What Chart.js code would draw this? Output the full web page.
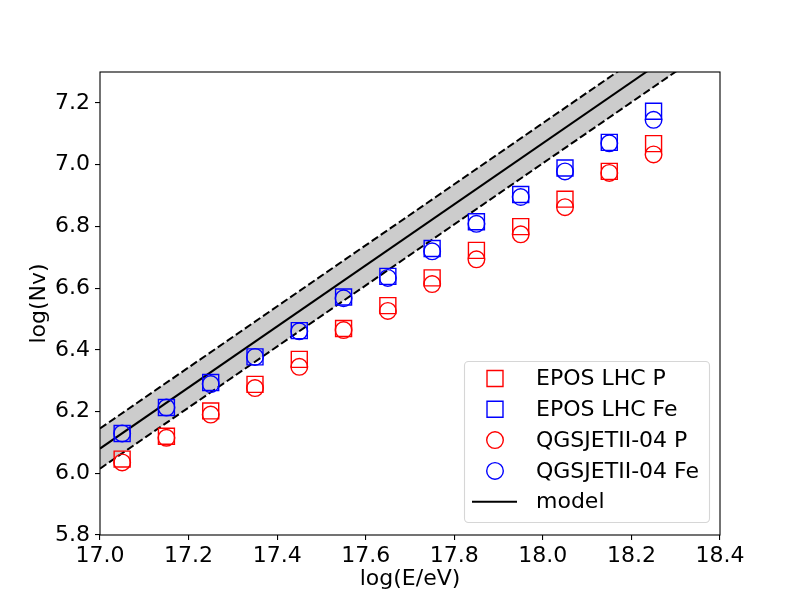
<!DOCTYPE html>
<html>
<head>
<meta charset="utf-8">
<script src="https://cdn.jsdelivr.net/npm/chart.js@4"></script>
<style>
  body { margin: 0; background: #fff; }
  #wrap { width: 800px; height: 600px; }
</style>
</head>
<body>
<div id="wrap"><canvas id="graph"></canvas></div>
<script>
// shower energies, log10(E/eV)
const energies = [17.05, 17.15, 17.25, 17.35, 17.45, 17.55, 17.65, 17.75, 17.85, 17.95, 18.05, 18.15, 18.25];

// log(Nv) per model / primary
const eposP = [6.046, 6.120, 6.202, 6.288, 6.369, 6.469, 6.543, 6.633, 6.722, 6.799, 6.888, 6.978, 7.068];
const eposFe = [6.129, 6.213, 6.294, 6.377, 6.462, 6.571, 6.638, 6.728, 6.815, 6.903, 6.989, 7.072, 7.173];
const qgsP = [6.035, 6.115, 6.190, 6.276, 6.345, 6.464, 6.526, 6.613, 6.693, 6.774, 6.862, 6.973, 7.033];
const qgsFe = [6.129, 6.213, 6.289, 6.377, 6.460, 6.567, 6.633, 6.719, 6.808, 6.895, 6.978, 7.069, 7.145];

// model line and its band (end points)
const modelX = [17.0, 18.4];
const modelY = [6.08, 7.465];
const upperY = [6.145, 7.53];
const lowerY = [6.015, 7.40];

const xTicks = [17.0, 17.2, 17.4, 17.6, 17.8, 18.0, 18.2, 18.4];
const yTicks = [5.8, 6.0, 6.2, 6.4, 6.6, 6.8, 7.0, 7.2];

const FONT = "'DejaVu Sans', sans-serif";
const FSIZE = 22;

function pts(xs, ys) {
  return xs.map((x, i) => ({ x: x, y: ys[i] }));
}

function markers(label, ys, color, style) {
  return {
    label: label,
    data: pts(energies, ys),
    pointStyle: style,
    pointRadius: style === "rect" ? 11.3 : 8.3,
    pointHoverRadius: style === "rect" ? 11.3 : 8.3,
    borderColor: color,
    backgroundColor: "rgba(0,0,0,0)",
    pointBorderWidth: 1.4,
    showLine: false,
  };
}

// draw the box round the plot, matplotlib style
const frame = {
  id: "frame",
  afterDatasetsDraw(chart) {
    const { ctx, chartArea: a } = chart;
    ctx.save();
    ctx.strokeStyle = "#000";
    ctx.lineWidth = 1.1;
    ctx.strokeRect(a.left, a.top, a.right - a.left, a.bottom - a.top);
    ctx.restore();
  },
};

// legend in lower right corner of the plot
const boxLegend = {
  id: "boxLegend",
  afterDraw(chart) {
    const ctx = chart.ctx;
    const x0 = 464, y0 = 361, w = 245, h = 161;
    ctx.save();
    ctx.beginPath();
    ctx.roundRect(x0 + 0.5, y0 + 0.5, w, h, 4);
    ctx.fillStyle = "rgba(255,255,255,0.8)";
    ctx.fill();
    ctx.strokeStyle = "#d6d6d6";
    ctx.lineWidth = 1.1;
    ctx.stroke();

    ctx.font = FSIZE + "px " + FONT;
    ctx.textBaseline = "middle";
    chart.data.datasets.slice(0, 5).forEach((ds, i) => {
      const cy = 378.5 + i * 30.8;
      ctx.beginPath();
      if (ds.showLine) {
        ctx.lineWidth = ds.borderWidth;
        ctx.moveTo(472, cy);
        ctx.lineTo(517, cy);
      } else if (ds.pointStyle === "rect") {
        const half = ds.pointRadius * Math.SQRT1_2;
        ctx.lineWidth = ds.pointBorderWidth;
        ctx.rect(495 - half, cy - half, 2 * half, 2 * half);
      } else {
        ctx.lineWidth = ds.pointBorderWidth;
        ctx.arc(495, cy, ds.pointRadius, 0, Math.PI * 2);
      }
      ctx.strokeStyle = ds.borderColor;
      ctx.stroke();
      ctx.fillStyle = "#000";
      ctx.fillText(ds.label, 536, cy + 1);
    });
    ctx.restore();
  },
};

const axisLine = {
  display: true,
  drawOnChartArea: false,
  drawTicks: true,
  tickLength: 5,
  color: "#000",
  lineWidth: 1.1,
};

const myChart = new Chart(document.getElementById("graph"), {
  type: "scatter",
  data: {
    datasets: [
      markers("EPOS LHC P", eposP, "#ff0000", "rect"),
      markers("EPOS LHC Fe", eposFe, "#0000ff", "rect"),
      markers("QGSJETII-04 P", qgsP, "#ff0000", "circle"),
      markers("QGSJETII-04 Fe", qgsFe, "#0000ff", "circle"),
      {
        label: "model",
        data: pts(modelX, modelY),
        showLine: true,
        borderColor: "#000",
        borderWidth: 2,
        pointRadius: 0,
      },
      {
        label: "upper",
        data: pts(modelX, upperY),
        showLine: true,
        borderColor: "#000",
        borderWidth: 2,
        borderDash: [7.7, 3.3],
        pointRadius: 0,
        fill: "+1",
        backgroundColor: "rgb(204,204,204)",
      },
      {
        label: "lower",
        data: pts(modelX, lowerY),
        showLine: true,
        borderColor: "#000",
        borderWidth: 2,
        borderDash: [7.7, 3.3],
        pointRadius: 0,
      },
    ],
  },
  options: {
    responsive: true,
    maintainAspectRatio: false,
    animation: false,
    layout: {
      padding: { left: 0, top: 72, right: 80, bottom: 0 },
    },
    plugins: {
      legend: { display: false },
      tooltip: { enabled: false },
      filler: { drawTime: "beforeDatasetsDraw" },
    },
    scales: {
      x: {
        type: "linear",
        min: 17.0,
        max: 18.4,
        border: { display: false },
        grid: axisLine,
        afterBuildTicks: (s) => { s.ticks = xTicks.map((v) => ({ value: v })); },
        afterFit: (s) => { s.height = 65; },
        ticks: {
          padding: 3,
          color: "#000",
          font: { family: FONT, size: FSIZE },
          callback: (v) => v.toFixed(1),
        },
        title: {
          display: true,
          text: "log(E/eV)",
          color: "#000",
          font: { family: FONT, size: FSIZE },
          padding: { top: 0, bottom: 8 },
        },
      },
      y: {
        type: "linear",
        min: 5.8,
        max: 7.3,
        border: { display: false },
        grid: axisLine,
        afterBuildTicks: (s) => { s.ticks = yTicks.map((v) => ({ value: v })); },
        afterFit: (s) => { s.width = 100; },
        ticks: {
          padding: 5,
          color: "#000",
          font: { family: FONT, size: FSIZE },
          callback: (v) => v.toFixed(1),
        },
        title: {
          display: true,
          text: "log(Nv)",
          color: "#000",
          font: { family: FONT, size: FSIZE },
          padding: { top: 26, bottom: 0 },
        },
      },
    },
  },
  plugins: [frame, boxLegend],
});
</script>
</body>
</html>
